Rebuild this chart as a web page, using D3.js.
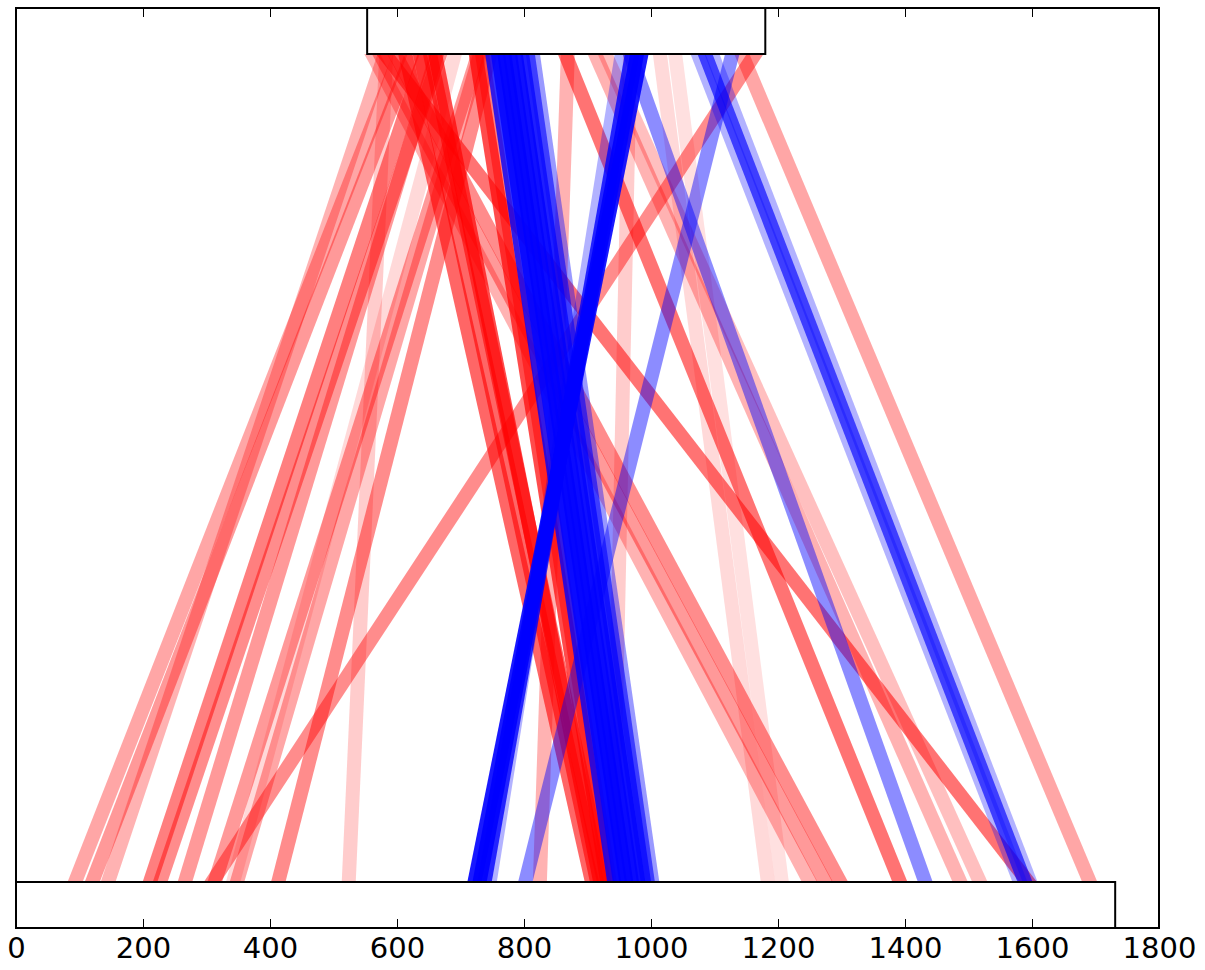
<!DOCTYPE html>
<html>
<head>
<meta charset="utf-8">
<script src="https://cdn.jsdelivr.net/npm/d3@7"></script>
<style>
  html, body { margin: 0; padding: 0; background: #fff; }
  svg { display: block; }
</style>
</head>
<body>
<svg id="chart" width="1205" height="970"></svg>
<script>
// x tick labels
const xTicks = [0, 200, 400, 600, 800, 1000, 1200, 1400, 1600, 1800];
// sequence extents (data units)
const topSeq = [553, 1180];
const bottomSeq = [0, 1731];
// red (forward) matches: position on top sequence, on bottom sequence, opacity
const redTop = [605, 624, 581, 644, 668, 663, 728, 731, 1164, 747, 583, 869, 613, 636, 660, 652, 724, 734, 573, 597, 561, 865, 912, 928, 1014, 1038, 581, 1143, 967, 691];
const redBottom = [93, 120, 145, 211, 227, 266, 313, 348, 309, 413, 524, 825, 907, 915, 920, 926, 931, 935, 1274, 1298, 1250, 1392, 1487, 1518, 1184, 1206, 1594, 1691, 939, 342];
const redAlpha = [0.35, 0.4, 0.3, 0.5, 0.45, 0.4, 0.4, 0.35, 0.45, 0.45, 0.2, 0.3, 0.6, 0.6, 0.7, 0.6, 0.7, 0.5, 0.4, 0.45, 0.3, 0.55, 0.3, 0.25, 0.15, 0.12, 0.55, 0.35, 0.2, 0.15];
// blue (reverse) matches
const blueTop = [750, 759, 769, 778, 787, 797, 806, 814, 985, 978, 970, 954, 967, 1085, 1096, 1074, 1128];
const blueBottom = [942, 951, 961, 970, 980, 989, 995, 1002, 722, 730, 738, 746, 1432, 1589, 1597, 1581, 802];
const blueAlpha = [0.8, 0.8, 0.9, 0.8, 0.8, 0.7, 0.6, 0.4, 0.9, 0.9, 0.8, 0.3, 0.45, 0.65, 0.3, 0.3, 0.45];

const svg = d3.select("#chart");
const margin = {left: 16, right: 1205 - 1159, top: 8, bottom: 970 - 928};
const W = 1159 - 16, H = 928 - 8;

const x = d3.scaleLinear().domain([0, 1800]).range([margin.left, margin.left + W]);
const y = d3.scaleLinear().domain([0, 20]).range([margin.top + H, margin.top]);

svg.append("defs").append("clipPath").attr("id", "between")
  .append("rect").attr("x", margin.left).attr("y", y(19)).attr("width", W).attr("height", y(1) - y(19));

const matches = [];
redTop.forEach((t, i) => matches.push({t, b: redBottom[i], a: redAlpha[i], c: "#ff0000"}));
blueTop.forEach((t, i) => matches.push({t, b: blueBottom[i], a: blueAlpha[i], c: "#0000ff"}));

// extend each match a little beyond the boxes, then clip to the gap between them
const ext = 0.5;
const frac = ext / 18;
const gLines = svg.append("g").attr("clip-path", "url(#between)");
gLines.selectAll("line").data(matches).join("line")
  .attr("x1", d => x(d.t) + (x(d.t) - x(d.b)) * frac)
  .attr("y1", y(19 + ext))
  .attr("x2", d => x(d.b) - (x(d.t) - x(d.b)) * frac)
  .attr("y2", y(1 - ext))
  .attr("stroke", d => d.c)
  .attr("stroke-opacity", d => d.a)
  .attr("stroke-width", 14);

// sequence boxes
svg.append("rect")
  .attr("x", x(topSeq[0])).attr("y", y(20))
  .attr("width", x(topSeq[1]) - x(topSeq[0])).attr("height", y(19) - y(20))
  .attr("fill", "#fff").attr("stroke", "#000").attr("stroke-width", 2);
svg.append("rect")
  .attr("x", x(bottomSeq[0])).attr("y", y(1))
  .attr("width", x(bottomSeq[1]) - x(bottomSeq[0])).attr("height", y(0) - y(1))
  .attr("fill", "#fff").attr("stroke", "#000").attr("stroke-width", 2);

// frame
svg.append("rect")
  .attr("x", margin.left).attr("y", margin.top).attr("width", W).attr("height", H)
  .attr("fill", "none").attr("stroke", "#000").attr("stroke-width", 2);

// bottom axis with inward ticks
const axB = svg.append("g").attr("transform", `translate(0,${margin.top + H})`)
  .call(d3.axisBottom(x).tickValues(xTicks).tickFormat(d3.format("d")).tickSizeInner(-9).tickSizeOuter(0).tickPadding(9));
axB.select(".domain").remove();
axB.selectAll("line").attr("stroke", "#000").attr("stroke-width", 1);
axB.selectAll("text").attr("font-family", "DejaVu Sans").attr("font-size", 29).attr("fill", "#000");

const axT = svg.append("g").attr("transform", `translate(0,${margin.top})`)
  .call(d3.axisTop(x).tickValues(xTicks).tickSizeInner(-9).tickSizeOuter(0).tickFormat(""));
axT.select(".domain").remove();
axT.selectAll("line").attr("stroke", "#000").attr("stroke-width", 1);
</script>
</body>
</html>
